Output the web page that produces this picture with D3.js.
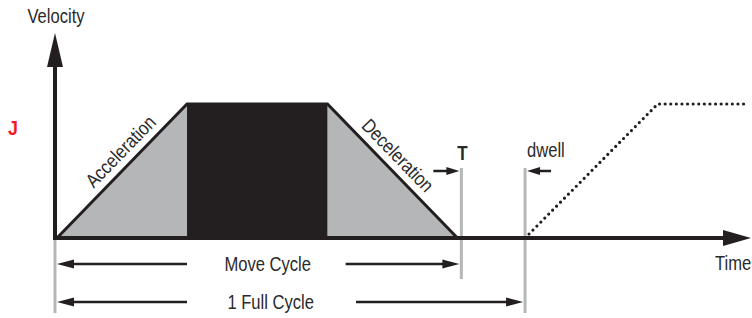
<!DOCTYPE html>
<html>
<head>
<meta charset="utf-8">
<script src="https://cdn.jsdelivr.net/npm/d3@7"></script>
<style>
  body { margin: 0; background: #fff; }
  text { font-family: "Liberation Sans Narrow", "Arial Narrow", "Liberation Sans", Arial, sans-serif; fill: #2b2a2b; }
</style>
</head>
<body>
<script>
// move profile (time in accel units, velocity normalised)
var profileTime = [0, 1, 2.08, 3.08];
var profileVelocity = [0, 1, 1, 0];
var nextTime = [3.6, 4.62, 5.29];
var nextVelocity = [0, 1, 1];
var phaseLabels = ['Acceleration', 'Deceleration'];
var phaseLabelAt = [0.57, 2.54];
var markerLabels = ['T', 'dwell'];
var markerTimes = [3.11, 3.6];
var cycleLabels = ['Move Cycle', '1 Full Cycle'];
var cycleEnds = [3.11, 3.6];
var axisLabels = ['Velocity', 'Time'];
var levelLabel = 'J';

var ink = '#231f20', grey = '#b5b6b8';
var narrow = 0.85; // condensed face squeeze

var svg = d3.select('body').append('svg').attr('width', 752).attr('height', 318);

var x = d3.scaleLinear().domain([0, 5.33]).range([57, 750]);
var y = d3.scaleLinear().domain([0, 1]).range([238, 104]);

var pts = profileTime.map(function(t, i) { return [t, profileVelocity[i]]; });

// grey accel / decel triangles
var tri = [
  [pts[0], pts[1], [pts[1][0], 0]],
  [pts[2], pts[3], [pts[2][0], 0]]
];
svg.selectAll('polygon.tri').data(tri).enter().append('polygon')
  .attr('class', 'tri')
  .attr('points', function(d) { return d.map(function(p) { return x(p[0]) + ',' + y(p[1]); }).join(' '); })
  .attr('fill', grey);

// constant velocity block
svg.append('rect')
  .attr('x', x(pts[1][0])).attr('y', y(1))
  .attr('width', x(pts[2][0]) - x(pts[1][0]))
  .attr('height', y(0) - y(1))
  .attr('fill', ink);

// slopes
var line = d3.line().x(function(d) { return x(d[0]); }).y(function(d) { return y(d[1]); });
svg.append('path').attr('d', line(pts)).attr('fill', 'none')
  .attr('stroke', ink).attr('stroke-width', 3).attr('stroke-linejoin', 'miter');

// next move, dotted
var next = nextTime.map(function(t, i) { return [t, nextVelocity[i]]; });
svg.append('path').attr('d', line(next)).attr('fill', 'none')
  .attr('stroke', ink).attr('stroke-width', 3.2)
  .attr('stroke-dasharray', '0,5.6').attr('stroke-linecap', 'round');

// grey marker lines
var markers = [[55, 240, 313], [x(markerTimes[0]), 168, 279], [x(markerTimes[1]), 168, 313]];
svg.selectAll('line.mk').data(markers).enter().append('line')
  .attr('class', 'mk')
  .attr('x1', function(d) { return d[0]; }).attr('x2', function(d) { return d[0]; })
  .attr('y1', function(d) { return d[1]; }).attr('y2', function(d) { return d[2]; })
  .attr('stroke', grey).attr('stroke-width', 3);

// axes
svg.append('line').attr('x1', 55).attr('x2', 55).attr('y1', 240).attr('y2', 60)
  .attr('stroke', ink).attr('stroke-width', 4);
svg.append('polygon').attr('points', '55,33 47,67 63,67').attr('fill', ink);
svg.append('line').attr('x1', 53).attr('x2', 726).attr('y1', 238).attr('y2', 238)
  .attr('stroke', ink).attr('stroke-width', 4);
svg.append('polygon').attr('points', '751,238 723,230 723,246').attr('fill', ink);

// arrow helper
function arrow(x1, x2, yy, len, hw, w) {
  var dir = x2 > x1 ? 1 : -1;
  svg.append('line').attr('x1', x1).attr('x2', x2 - dir * len * 0.8).attr('y1', yy).attr('y2', yy)
    .attr('stroke', ink).attr('stroke-width', w);
  svg.append('polygon')
    .attr('points', [[x2, yy], [x2 - dir * len, yy - hw], [x2 - dir * len, yy + hw]].join(' '))
    .attr('fill', ink);
}

// condensed label helper
function label(tx, ty, str, opt) {
  opt = opt || {};
  var tr = 'translate(' + tx + ',' + ty + ')' + (opt.rotate ? ' rotate(' + opt.rotate + ')' : '') + ' scale(' + narrow + ',1)';
  var t = svg.append('text').attr('transform', tr)
    .attr('font-size', opt.size || 19.5)
    .attr('text-anchor', opt.anchor || 'start')
    .text(str);
  if (opt.dy) t.attr('dy', opt.dy);
  if (opt.weight) t.attr('font-weight', opt.weight);
  if (opt.fill) t.style('fill', opt.fill);
  return t;
}

var cycleY = [264, 302];
cycleLabels.forEach(function(lab, i) {
  arrow(x(1), x(0), cycleY[i], 17, 4.5, 2.5);
  arrow(x(2.22 + i * 0.08), x(cycleEnds[i]) - 2, cycleY[i], 17, 4.5, 2.5);
  label(x(1.62) + i * 3, cycleY[i] + 7, lab, { anchor: 'middle' });
});

// T and dwell markers
arrow(x(markerTimes[0]) - 28, x(markerTimes[0]) - 2, 171, 13, 4, 2.5);
arrow(x(markerTimes[1]) + 26, x(markerTimes[1]) + 2, 171, 13, 4, 2.5);
label(x(markerTimes[0]) + 1, 160, markerLabels[0], { anchor: 'middle', size: 20, weight: 'bold' });
label(x(markerTimes[1]) + 2, 157, markerLabels[1]);

// phase labels along slopes
var ang = [
  Math.atan2(y(1) - y(0), x(1) - x(0)) * 180 / Math.PI,
  Math.atan2(y(0) - y(1), x(pts[3][0]) - x(pts[2][0])) * 180 / Math.PI
];
phaseLabels.forEach(function(lab, i) {
  var t = phaseLabelAt[i];
  var v = i === 0 ? t / pts[1][0] : 1 - (t - pts[2][0]) / (pts[3][0] - pts[2][0]);
  label(x(t), y(v), lab, { rotate: ang[i], dy: -8, anchor: 'middle' });
});

// axis titles
label(56, 23, axisLabels[0], { anchor: 'middle' });
label(715, 270, axisLabels[1]);
label(13, 135, levelLabel, { anchor: 'middle', size: 21, weight: 'bold', fill: '#ed1c24' });
</script>
</body>
</html>
